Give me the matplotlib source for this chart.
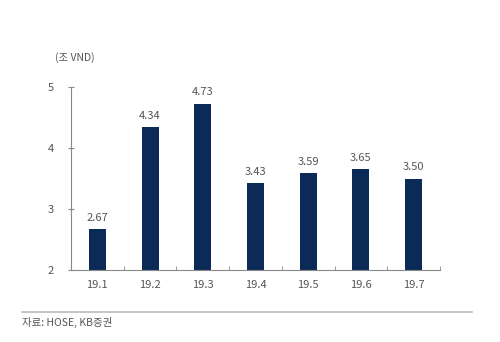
import matplotlib
matplotlib.use("Agg")
import matplotlib.pyplot as plt
from matplotlib.lines import Line2D

plt.rcParams['font.family'] = ['Noto Sans CJK KR', 'DejaVu Sans']

categories = ["19.1", "19.2", "19.3", "19.4", "19.5", "19.6", "19.7"]
values = [2.67, 4.34, 4.73, 3.43, 3.59, 3.65, 3.50]
yticks = [2, 3, 4, 5]

fig = plt.figure(figsize=(5.0, 3.42), dpi=100)
ax = fig.add_axes([0.142, 0.2105, 0.738, 0.535])
bar_color = "#0b2a56"
text_color = "#555555"
x = list(range(len(categories)))
ax.bar(x, values, width=0.32, color=bar_color, zorder=2)
for xi, v in zip(x, values):
    ax.text(xi, v + 0.1, f"{v:.2f}", ha="center", va="bottom", fontsize=8, color=text_color)

ax.set_ylim(2, 5)
ax.set_xlim(-0.5, len(categories) - 0.5)
ax.set_yticks(yticks)
ax.set_yticklabels([str(t) for t in yticks], fontsize=8, color=text_color)
ax.set_xticks(x)
ax.set_xticklabels(categories, fontsize=8, color=text_color)
ax.tick_params(axis="x", length=0, pad=7)
ax.set_xticks([i + 0.5 for i in range(len(categories))], minor=True)
ax.tick_params(axis="x", which="minor", length=3, direction="in", color="#888888")
ax.tick_params(axis="y", length=5, direction="inout", color="#888888", pad=10)
for s in ["top", "right"]:
    ax.spines[s].set_visible(False)
for s in ["left", "bottom"]:
    ax.spines[s].set_color("#888888")
    ax.spines[s].set_linewidth(0.8)

fig.text(0.11, 0.833, "(조 VND)", fontsize=7.5, color=text_color, ha="left", va="center")
fig.add_artist(Line2D([0.044, 0.944], [0.087, 0.087], transform=fig.transFigure, color="#bbbbbb", linewidth=1.2))
fig.text(0.044, 0.057, "자료: HOSE, KB증권", fontsize=7.5, color=text_color, ha="left", va="center")

fig.savefig("out.png", dpi=100)
